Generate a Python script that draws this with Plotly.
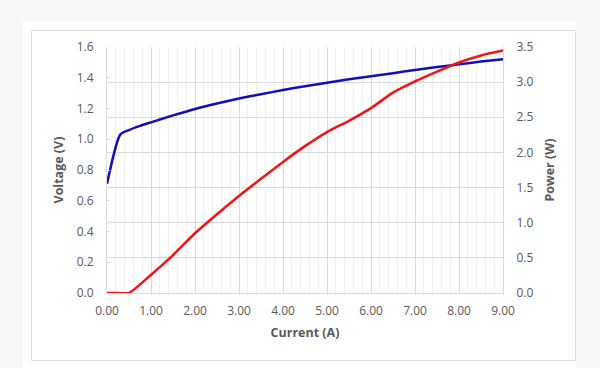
import plotly.graph_objects as go

current_v = [0.0, 0.3, 0.5, 0.75, 1.0, 1.5, 2.0, 2.5, 3.0, 3.5, 4.0, 4.5, 5.0, 5.5, 6.0, 6.5, 7.0, 7.5, 8.0, 8.5, 9.0]
voltage = [0.71, 1.03, 1.06, 1.087, 1.11, 1.155, 1.197, 1.233, 1.265, 1.293, 1.32, 1.345, 1.367, 1.39, 1.41, 1.43, 1.45, 1.47, 1.487, 1.505, 1.52]

current_p = [0.0, 0.25, 0.5, 1.0, 1.5, 2.0, 2.5, 3.0, 3.5, 4.0, 4.5, 5.0, 5.5, 6.0, 6.5, 7.0, 7.5, 8.0, 8.5, 9.0]
power = [0.0, 0.0, 0.0, 0.26, 0.54, 0.85, 1.12, 1.38, 1.625, 1.865, 2.09, 2.29, 2.45, 2.63, 2.85, 3.01, 3.15, 3.28, 3.38, 3.45]

x_ticks = [0, 1, 2, 3, 4, 5, 6, 7, 8, 9]

FONT = "Open Sans"
GREY = "#595959"
GRID = "#d9d9d9"

fig = go.Figure()
fig.add_trace(go.Scatter(x=current_v, y=voltage, mode="lines", name="Voltage",
                         line=dict(color="#1010b4", width=2.5, shape="spline", smoothing=0.6),
                         yaxis="y"))
fig.add_trace(go.Scatter(x=current_p, y=power, mode="lines", name="Power",
                         line=dict(color="#f01414", width=2.5, shape="spline", smoothing=0.6),
                         yaxis="y2"))

fig.update_layout(
    width=600, height=368,
    margin=dict(l=107, r=97, t=47, b=75),
    paper_bgcolor="#f7f7f7",
    plot_bgcolor="white",
    showlegend=False,
    font=dict(family=FONT, color=GREY, size=12),
    xaxis=dict(
        range=[0, 9], tickvals=x_ticks, ticktext=[f"{v:.2f}" for v in x_ticks],
        showgrid=True, gridcolor=GRID, gridwidth=1,
        minor=dict(dtick=0.2, showgrid=True, gridcolor="#efefef", gridwidth=1),
        showline=True, linecolor=GRID, linewidth=1,
        zeroline=False, ticks="", ticklabelstandoff=7,
        title=dict(text="<b>Current (A)</b>", standoff=9, font=dict(size=12.5, color=GREY)),
        tickfont=dict(size=12, color=GREY),
    ),
    yaxis=dict(
        range=[0, 1.6], dtick=0.2, tickformat=".1f",
        showgrid=False, zeroline=False,
        showline=True, linecolor=GRID, linewidth=1,
        ticks="inside", ticklen=3, tickcolor=GRID,
        ticklabelstandoff=10,
        title=dict(text="<b>Voltage (V)</b>", standoff=10, font=dict(size=12.5, color=GREY)),
        tickfont=dict(size=12, color=GREY),
    ),
    yaxis2=dict(
        range=[0, 3.5], dtick=0.5, tickformat=".1f",
        overlaying="y", side="right",
        showgrid=True, gridcolor=GRID, gridwidth=1, zeroline=False,
        showline=True, linecolor=GRID, linewidth=1,
        ticks="", ticklabelstandoff=10,
        title=dict(text="<b>Power (W)</b>", standoff=12, font=dict(size=12.5, color=GREY)),
        tickfont=dict(size=12, color=GREY),
    ),
    shapes=[
        # white card
        dict(type="rect", xref="paper", yref="paper", layer="below",
             x0=(23 - 107) / 396, x1=(576 - 107) / 396,
             y0=(293 - 380) / 246, y1=(293 - 21) / 246,
             fillcolor="white", line=dict(width=0)),
        # inner border
        dict(type="rect", xref="paper", yref="paper", layer="below",
             x0=(31.5 - 107) / 396, x1=(575.5 - 107) / 396,
             y0=(293 - 360.5) / 246, y1=(293 - 30.5) / 246,
             fillcolor="rgba(0,0,0,0)", line=dict(width=1, color="#dcdcdc")),
    ],
)

fig.write_html("out.html", config={"displayModeBar": False},
               post_script="document.body.style.margin='0';document.body.style.background='#f7f7f7';")
